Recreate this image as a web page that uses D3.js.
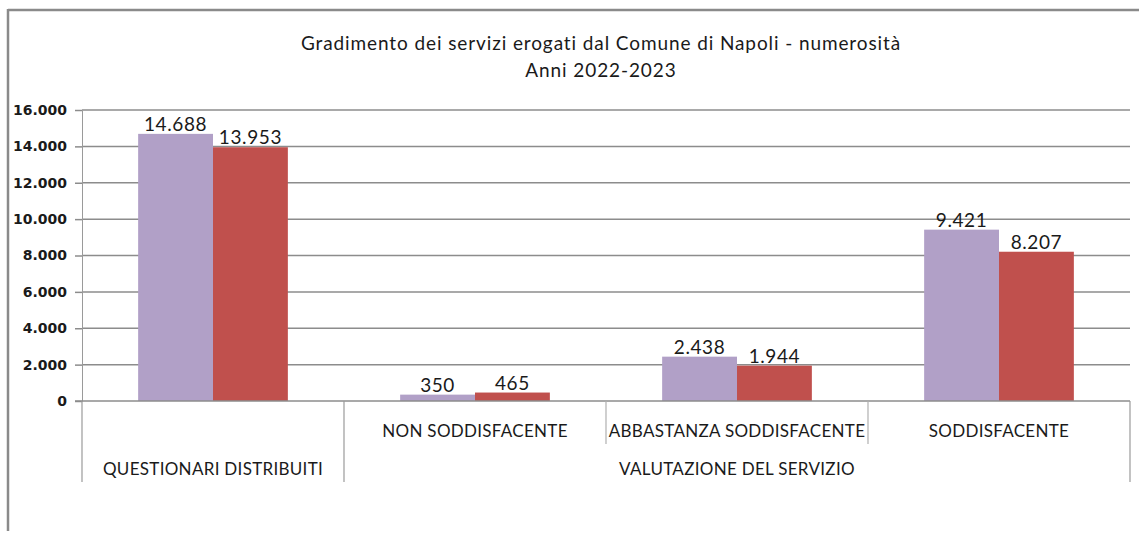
<!DOCTYPE html>
<html lang="it">
<head>
    <meta charset="UTF-8">
    <title>Gradimento servizi Comune di Napoli</title>
    <script src="https://d3js.org/d3.v7.min.js"></script>
    <style>
        body { margin: 0; background: #fff; }
        text { font-family: Lato, "Open Sans", sans-serif; fill: #1a1a1a; }
    </style>
</head>
<body>
    <div id="chart"></div>

    <script>
        // data ---------------------------------------------------------
        const innerLabels = ["", "NON SODDISFACENTE", "ABBASTANZA SODDISFACENTE", "SODDISFACENTE"];
        const outerGroups = [
            {label: "QUESTIONARI DISTRIBUITI", from: 0, to: 1},
            {label: "VALUTAZIONE DEL SERVIZIO", from: 1, to: 4}
        ];
        const years = ["2022", "2023"];
        const values2022 = [14688, 350, 2438, 9421];
        const values2023 = [13953, 465, 1944, 8207];
        const yTicks = [0, 2000, 4000, 6000, 8000, 10000, 12000, 14000, 16000];
        const titleLines = ["Gradimento dei servizi erogati dal Comune di Napoli - numerosità", "Anni 2022-2023"];

        const colors = {"2022": "#B1A0C7", "2023": "#C0504D"};

        // svg ----------------------------------------------------------
        const width = 1139, height = 533;
        const svg = d3.select("#chart").append("svg")
            .attr("width", width)
            .attr("height", height);

        const plot = {left: 82, right: 1130, top: 110, bottom: 401};

        // outer frame (only left and top edges are visible)
        svg.append("line")
            .attr("x1", 8).attr("y1", 10).attr("x2", width).attr("y2", 10)
            .attr("stroke", "#8a8a8a").attr("stroke-width", 2.5);
        svg.append("line")
            .attr("x1", 8).attr("y1", 9).attr("x2", 8).attr("y2", 531)
            .attr("stroke", "#8a8a8a").attr("stroke-width", 2.5);

        // title
        svg.selectAll("text.title")
            .data(titleLines)
            .join("text")
            .attr("class", "title")
            .attr("x", 601)
            .attr("y", (d, i) => 50 + i * 27)
            .attr("text-anchor", "middle")
            .attr("font-size", 19)
            .attr("letter-spacing", 0.9)
            .text(d => d);

        // scales -------------------------------------------------------
        const x = d3.scaleBand()
            .domain(d3.range(innerLabels.length))
            .range([plot.left, plot.right])
            .padding(0);
        const xs = d3.scaleBand()
            .domain(years)
            .range([0, x.bandwidth()])
            .paddingInner(0)
            .paddingOuter(0.75);
        const y = d3.scaleLinear()
            .domain([0, 16000])
            .range([plot.bottom, plot.top]);

        const itFormat = d3.formatLocale({decimal: ",", thousands: ".", grouping: [3], currency: ["€", ""]}).format(",d");

        // gridlines
        svg.append("g")
            .selectAll("line")
            .data(yTicks.filter(d => d > 0))
            .join("line")
            .attr("x1", plot.left).attr("x2", plot.right)
            .attr("y1", d => y(d)).attr("y2", d => y(d))
            .attr("stroke", "#8c8c8c")
            .attr("stroke-width", 1.5);

        // y axis
        const yAxis = svg.append("g")
            .attr("transform", `translate(${plot.left},0)`)
            .call(d3.axisLeft(y).tickValues(yTicks).tickSize(7).tickPadding(8).tickFormat(itFormat));
        yAxis.select(".domain").attr("stroke", "#9a9a9a").attr("stroke-width", 1);
        yAxis.selectAll(".tick line").attr("stroke", "#8c8c8c").attr("stroke-width", 1.5);
        yAxis.selectAll(".tick text")
            .style("font-family", "'DejaVu Sans', sans-serif")
            .style("font-weight", "bold")
            .style("font-size", "14px")
            .style("fill", "#1a1a1a");

        // bars
        const rows = innerLabels.map((c, i) => ({idx: i, vals: [values2022[i], values2023[i]]}));
        const groups = svg.append("g")
            .selectAll("g")
            .data(rows)
            .join("g")
            .attr("transform", d => `translate(${x(d.idx)},0)`);

        groups.selectAll("rect")
            .data(d => years.map((yr, j) => ({yr: yr, v: d.vals[j]})))
            .join("rect")
            .attr("x", d => xs(d.yr))
            .attr("width", xs.bandwidth())
            .attr("y", d => y(d.v))
            .attr("height", d => y(0) - y(d.v))
            .attr("fill", d => colors[d.yr]);

        groups.selectAll("text")
            .data(d => years.map((yr, j) => ({yr: yr, v: d.vals[j]})))
            .join("text")
            .attr("x", d => xs(d.yr) + xs.bandwidth() / 2)
            .attr("y", d => y(d.v) - 3)
            .attr("text-anchor", "middle")
            .attr("font-size", 19)
            .attr("letter-spacing", 0.6)
            .text(d => itFormat(d.v));

        // zero line
        svg.append("line")
            .attr("x1", plot.left - 7).attr("x2", plot.right)
            .attr("y1", y(0)).attr("y2", y(0))
            .attr("stroke", "#8c8c8c").attr("stroke-width", 1.5);

        // multi level category axis ------------------------------------
        const innerBottom = 444, outerBottom = 482;
        const outerEdges = [];
        outerGroups.forEach(g => { outerEdges.push(g.from); outerEdges.push(g.to); });
        const edgeSet = Array.from(new Set(outerEdges));
        const innerEdges = d3.range(innerLabels.length + 1).filter(i => !edgeSet.includes(i));
        const edgeX = i => plot.left + i * x.step();

        svg.append("g")
            .selectAll("line")
            .data(edgeSet)
            .join("line")
            .attr("x1", d => edgeX(d)).attr("x2", d => edgeX(d))
            .attr("y1", y(0)).attr("y2", outerBottom)
            .attr("stroke", "#9a9a9a").attr("stroke-width", 1.2);
        svg.append("g")
            .selectAll("line")
            .data(innerEdges)
            .join("line")
            .attr("x1", d => edgeX(d)).attr("x2", d => edgeX(d))
            .attr("y1", y(0)).attr("y2", innerBottom)
            .attr("stroke", "#b0b0b0").attr("stroke-width", 1.2);

        svg.append("g")
            .selectAll("text")
            .data(innerLabels.map((l, i) => ({l: l, i: i})).filter(d => d.l))
            .join("text")
            .attr("x", d => x(d.i) + x.bandwidth() / 2)
            .attr("y", 437)
            .attr("text-anchor", "middle")
            .attr("font-size", 17)
            .attr("letter-spacing", 0.3)
            .text(d => d.l);

        svg.append("g")
            .selectAll("text")
            .data(outerGroups)
            .join("text")
            .attr("x", d => (edgeX(d.from) + edgeX(d.to)) / 2)
            .attr("y", 475)
            .attr("text-anchor", "middle")
            .attr("font-size", 17)
            .attr("letter-spacing", 0.3)
            .text(d => d.label);
    </script>
</body>
</html>
